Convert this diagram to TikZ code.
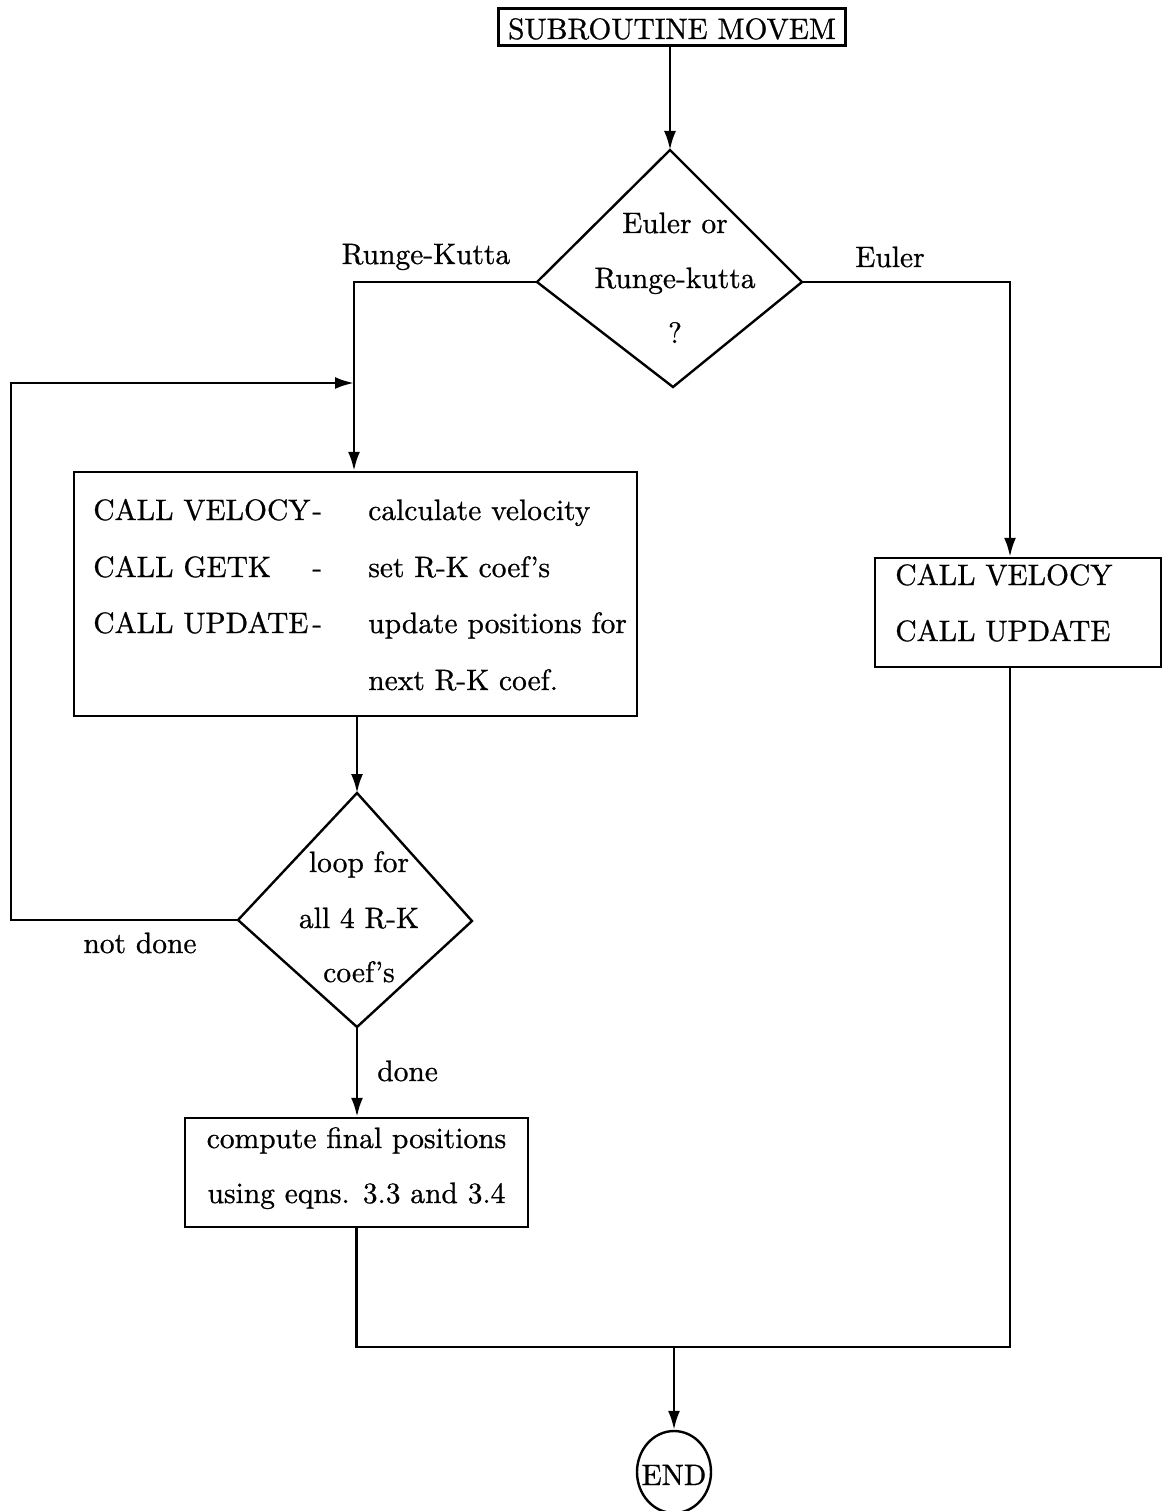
\documentclass[tikz,border=0pt]{standalone}
\usepackage{graphicx}
\usepackage{fontspec}
\usetikzlibrary{arrows.meta,shapes.geometric}
% slightly heavy roman for all lettering, set at 10pt and enlarged as a whole
\newfontfamily\heavyrm{Latin Modern Roman}[FakeBold=0.8]
\newcommand\cmtext[1]{\scalebox{2.95}{\heavyrm #1}}
\begin{document}
\begin{tikzpicture}[x=1pt,y=-1pt,
  line width=2.6pt,
  flow/.style={-{Latex[length=19pt,width=12pt]}},
  boxnode/.style={draw, rectangle, inner sep=0pt, line width=2.4pt},
  terminal/.style={draw, ellipse, inner sep=0pt, line width=2.4pt},
  decisionline/.style={line width=2.4pt, line join=miter},
  lbl/.style={anchor=base, inner sep=0pt},
  lblw/.style={anchor=base west, inner sep=0pt},
]
\useasboundingbox (0,0) rectangle (1164,1511);

% ---- boxes and terminal ----
\node[boxnode, minimum width=347, minimum height=37] (start) at (672,27) {};
\node[boxnode, minimum width=563, minimum height=244] (b2) at (355.5,594) {};
\node[boxnode, minimum width=286, minimum height=109] (b4) at (1018,612.5) {};
\node[boxnode, minimum width=343, minimum height=109] (b3) at (356.5,1172.5) {};
\node[terminal, minimum width=74, minimum height=82] (fin) at (674,1472) {};

% ---- decision diamonds (corner points) ----
\coordinate (d1n) at (670,150);
\coordinate (d1w) at (537,282);
\coordinate (d1e) at (802,282);
\coordinate (d1s) at (673,387);
\draw[decisionline] (d1n) -- (d1e) -- (d1s) -- (d1w) -- cycle;

\coordinate (d2n) at (357,793);
\coordinate (d2w) at (238,920);
\coordinate (d2e) at (472,921);
\coordinate (d2s) at (357,1027);
\draw[decisionline] (d2n) -- (d2e) -- (d2s) -- (d2w) -- cycle;

% ---- routing points ----
\coordinate (eul) at (1010,0);
\coordinate (jn) at (354,383);
\coordinate (lp) at (11,383);
\coordinate (mrg) at (674,1347);

% ---- connectors ----
\draw[flow] (start.south -| d1n) -- (d1n);
\draw[flow] (d1w) -| (b2.north -| jn);
\draw[flow] (d1e) -| (b4.north -| eul);
\draw[flow] (d2w) -| (lp) -- (jn);
\draw[flow] (b2.south -| d2n) -- (d2n);
\draw[flow] (d2s) -- (b3.north -| d2s);
\draw (b3.south) |- (mrg);
\draw (b4.south -| eul) |- (mrg);
\draw[flow] (mrg) -- (fin.north);

% ---- lettering ----
\node[lbl] (t0) at (672,39) {\cmtext{SUBROUTINE MOVEM}};
\node[lbl] (q1a) at (675,233) {\cmtext{Euler or}};
\node[lbl] (q1b) at (675,288) {\cmtext{Runge-kutta}};
\node[lbl] (q1c) at (675,343) {\cmtext{?}};
\node[lbl] (lrk) at (426,264) {\cmtext{Runge-Kutta}};
\node[lbl] (leu) at (890,267) {\cmtext{Euler}};

\node[lblw] (c1) at (92,520) {\cmtext{CALL VELOCY}};
\node[lblw] (h1) at (311,520) {\cmtext{-}};
\node[lblw] (e1) at (367,520) {\cmtext{calculate velocity}};
\node[lblw] (c2) at (92,577) {\cmtext{CALL GETK}};
\node[lblw] (h2) at (311,577) {\cmtext{-}};
\node[lblw] (e2) at (367,577) {\cmtext{set R-K coef’s}};
\node[lblw] (c3) at (92,633) {\cmtext{CALL UPDATE}};
\node[lblw] (h3) at (311,633) {\cmtext{-}};
\node[lblw] (e3) at (367,633) {\cmtext{update positions for}};
\node[lblw] (e4) at (367,690) {\cmtext{next R-K coef.}};

\node[lblw] (v1) at (894,585) {\cmtext{CALL VELOCY}};
\node[lblw] (v2) at (894,641) {\cmtext{CALL UPDATE}};

\node[lbl] (q2a) at (359,872) {\cmtext{loop for}};
\node[lbl] (q2b) at (359,928) {\cmtext{all 4 R-K}};
\node[lbl] (q2c) at (359,982) {\cmtext{coef’s}};
\node[lbl] (lnd) at (140,953) {\cmtext{not done}};
\node[lblw] (ldn) at (376,1081) {\cmtext{done}};

\node[lbl] (f1) at (356.5,1148) {\cmtext{compute final positions}};
\node[lbl] (f2) at (356.5,1203) {\cmtext{using eqns. 3.3 and 3.4}};

\node[lbl] (tend) at (674,1485) {\cmtext{END}};
\end{tikzpicture}
\end{document}
